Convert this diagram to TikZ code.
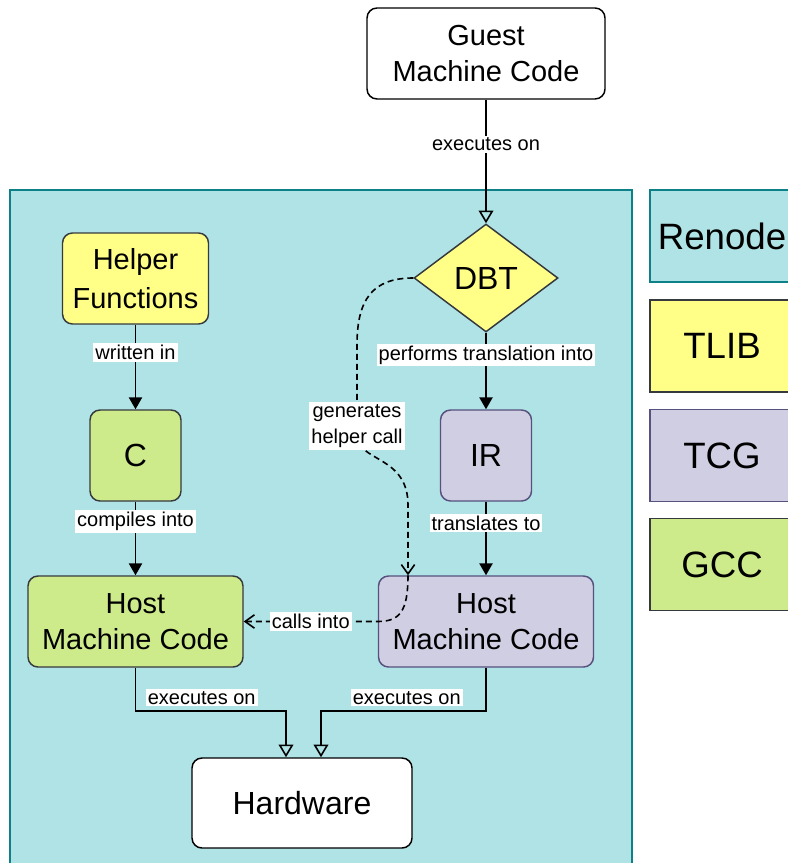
\documentclass[tikz,border=0pt]{standalone}
\usepackage{fontspec}
\setmainfont{Liberation Sans}
\usetikzlibrary{shapes.geometric,arrows.meta,calc}
\definecolor{tealfill}{HTML}{B0E3E6}
\definecolor{tealline}{HTML}{0E8088}
\definecolor{yelfill}{HTML}{FFFF88}
\definecolor{darkline}{HTML}{36393D}
\definecolor{purfill}{HTML}{D0CEE2}
\definecolor{purline}{HTML}{56517E}
\definecolor{grnfill}{HTML}{CDEB8B}
\begin{document}
\begin{tikzpicture}[x=0.75pt,y=-0.75pt,
  sz/.style 2 args={minimum width=#1*0.75pt,minimum height=#2*0.75pt},
  blk/.style={draw=#1,line width=1.1pt,rounded corners=7.5pt,inner sep=0pt,align=center,
    font=\fontsize{21.75}{27}\selectfont},
  legend/.style={draw=#1,line width=1.1pt,inner sep=0pt,sz={144}{92},
    font=\fontsize{27.5}{32}\selectfont},
  lbl/.style={fill=white,inner sep=1.5pt,align=center,font=\fontsize{15}{19.5}\selectfont},
  flow/.style={line width=1.2pt,-{Triangle[length=9pt,width=10pt]}},
  exec/.style={line width=1.2pt,-{Triangle[open,length=9.5pt,width=11pt]}},
  helper/.style={line width=1.2pt,dash pattern=on 4.5pt off 3pt,-{Straight Barb[length=7pt,width=10pt]}}]
\useasboundingbox (0,0) rectangle (788,863);
\clip (0,0) rectangle (788,863);

\draw[draw=tealline,fill=tealfill,line width=1.1pt] (10,190) rectangle (632,880);

\node[blk=black,fill=white,sz={238}{91}] (guest) at (486,53.5) {Guest\\Machine Code};
\node[diamond,draw=darkline,fill=yelfill,line width=1.1pt,inner sep=0pt,sz={144}{108},
  font=\fontsize{24}{29}\selectfont] (dbt) at (486,278) {DBT};
\node[blk=purline,fill=purfill,sz={91}{91},font=\fontsize{24}{29}\selectfont] (ir) at (486,455.5) {IR};
\node[blk=purline,fill=purfill,sz={215}{91}] (rhmc) at (486,621.5) {Host\\Machine Code};
\node[blk=darkline,fill=yelfill,sz={146}{91}] (helper) at (135.5,278.5) {Helper\\[2pt]Functions};
\node[blk=darkline,fill=grnfill,sz={91}{91},font=\fontsize{24}{29}\selectfont] (c) at (135.5,455.5) {C};
\node[blk=darkline,fill=grnfill,sz={215}{91}] (lhmc) at (135.5,621.5) {Host\\Machine Code};
\node[blk=black,fill=white,sz={220}{90},font=\fontsize{24}{29}\selectfont] (hw) at (302,803) {Hardware};

\node[legend=tealline,fill=tealfill] (renode) at (722,236) {Renode};
\node[legend=darkline,fill=yelfill] (tlib) at (722,346) {TLIB};
\node[legend=purline,fill=purfill] (tcg) at (722,455.5) {TCG};
\node[legend=darkline,fill=grnfill] (gcc) at (722,564.5) {GCC};

\coordinate (hin) at ($(rhmc.north)+(-78,0)$);

\draw[exec] (guest) -- node[lbl,pos=0.36]{executes on} (dbt);
\draw[flow] (dbt) -- node[lbl,pos=0.29]{performs translation into} (ir);
\draw[flow] (ir) -- node[lbl,pos=0.29]{translates to} (rhmc);
\draw[flow] (helper) -- node[lbl,pos=0.33]{written in} (c);
\draw[flow] (c) -- node[lbl,pos=0.27]{compiles into} (lhmc);

\draw[exec] (lhmc.south) |- node[lbl,pos=0.72,above=3pt]{executes on} ($(hw.north)+(-16,-46)$)
  -- ($(hw.north)+(-16,0)$);
\draw[exec] (rhmc.south) |- node[lbl,pos=0.74,above=3pt]{executes on} ($(hw.north)+(19,-46)$)
  -- ($(hw.north)+(19,0)$);

\draw[helper] (dbt.west) .. controls (372,278) and (357,300) .. (357,345) -- (357,426)
  node[lbl]{generates\\helper call} -- (357,435) .. controls (357,462) and (408,455) .. (408,505)
  -- (hin);
\draw[helper] (hin) .. controls ($(hin)+(0,36)$) and ($(rhmc.west)+(22,0)$) .. (rhmc.west)
  -- node[lbl]{calls into} (lhmc.east);
\end{tikzpicture}
\end{document}
